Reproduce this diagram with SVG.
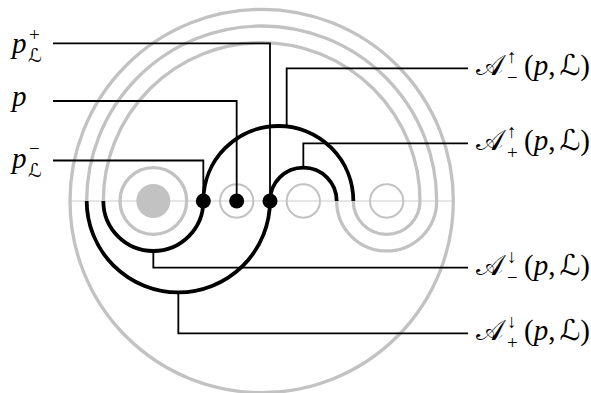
<svg xmlns="http://www.w3.org/2000/svg" width="591" height="393" viewBox="0 0 591 393">
<style>
.g{fill:none;stroke:#c2c2c2;stroke-width:3.3}
.gt{fill:none;stroke:#c2c2c2;stroke-width:2}
.ax{fill:none;stroke:#cccccc;stroke-width:1}
.b{fill:none;stroke:#000;stroke-width:3.8}
.l{fill:none;stroke:#000;stroke-width:1.8}
.d{fill:#000}
text{font-family:"Liberation Serif","DejaVu Serif","DejaVu Sans",serif;fill:#000}
.m{font-size:29px}
.s{font-size:19px}
.i{font-style:italic}
</style>
<rect width="591" height="393" fill="#fff"/>
<g id="background">
<line class="ax" x1="70" y1="201" x2="453.333" y2="201"/>
<circle class="g" cx="261.667" cy="201" r="191.667"/>
<circle cx="153.333" cy="201" r="17" fill="#c2c2c2"/>
<circle class="g" cx="153.333" cy="201" r="33.333"/>
<circle class="gt" cx="236.667" cy="201" r="16.667"/>
<circle class="gt" cx="303.333" cy="201" r="16.667"/>
<circle class="gt" cx="386.667" cy="201" r="16.667"/>
<path class="g" d="M86.667 201A175 175 0 0 1 436.667 201A50 50 0 0 1 336.667 201"/>
<path class="g" d="M103.333 201A158.333 158.333 0 0 1 420 201A33.333 33.333 0 0 1 353.333 201"/>
</g>
<g id="connectors">
<path class="b" d="M336.667 201A33.333 33.333 0 0 0 270 201A91.667 91.667 0 0 1 86.667 201"/>
<path class="b" d="M353.333 201A75 75 0 0 0 203.333 201A50 50 0 0 1 103.333 201"/>
<path class="l" d="M53 43.3H270V201"/>
<path class="l" d="M53 101H236.667V201"/>
<path class="l" d="M53 160.5H203.333V201"/>
<path class="l" d="M468 68.3H286.667V126.5"/>
<path class="l" d="M468 143.3H303.333V167.7"/>
<path class="l" d="M468 267.7H153.333V251"/>
<path class="l" d="M468 333.3H178.333V292.7"/>
</g>
<g id="points">
<circle class="d" cx="203.333" cy="201" r="7.5"/>
<circle class="d" cx="236.667" cy="201" r="7.5"/>
<circle class="d" cx="270" cy="201" r="7.5"/>
</g>
<g id="label-pLplus">
<text class="m i" x="12" y="53">p</text>
<text class="s" x="29" y="41">+</text>
<text class="s" x="28" y="62">ℒ</text>
</g>
<g id="label-p">
<text class="m i" x="12" y="106">p</text>
</g>
<g id="label-pLminus">
<text class="m i" x="12" y="168">p</text>
<text class="s" x="29" y="155">−</text>
<text class="s" x="28" y="177">ℒ</text>
</g>
<g id="label-Aup-minus">
<text class="m" x="476" y="75">𝒜</text>
<text class="s" x="507" y="63">↑</text>
<text class="s" x="507" y="84">−</text>
<text class="m" x="524" y="75">(<tspan class="i">p</tspan>,<tspan dx="4">ℒ</tspan>)</text>
</g>
<g id="label-Aup-plus">
<text class="m" x="476" y="150">𝒜</text>
<text class="s" x="507" y="138">↑</text>
<text class="s" x="507" y="159">+</text>
<text class="m" x="524" y="150">(<tspan class="i">p</tspan>,<tspan dx="4">ℒ</tspan>)</text>
</g>
<g id="label-Adown-minus">
<text class="m" x="476" y="275">𝒜</text>
<text class="s" x="507" y="263">↓</text>
<text class="s" x="507" y="284">−</text>
<text class="m" x="524" y="275">(<tspan class="i">p</tspan>,<tspan dx="4">ℒ</tspan>)</text>
</g>
<g id="label-Adown-plus">
<text class="m" x="476" y="340">𝒜</text>
<text class="s" x="507" y="328">↓</text>
<text class="s" x="507" y="349">+</text>
<text class="m" x="524" y="340">(<tspan class="i">p</tspan>,<tspan dx="4">ℒ</tspan>)</text>
</g>
</svg>
